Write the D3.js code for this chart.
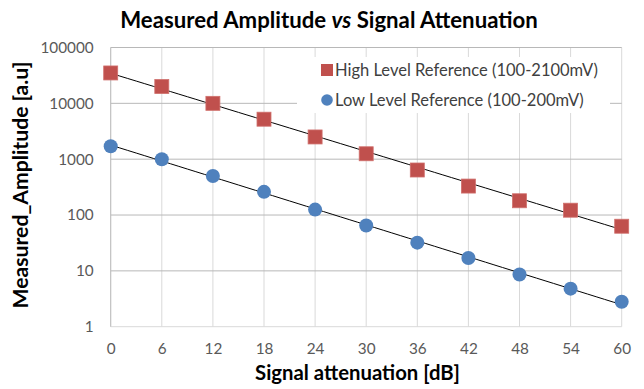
<!DOCTYPE html>
<html>
<head>
<meta charset="utf-8">
<script src="https://cdn.jsdelivr.net/npm/d3@7"></script>
<style>
  html, body { margin: 0; padding: 0; background: #fff; }
  svg { display: block; font-family: Lato, "Open Sans", sans-serif; }
</style>
</head>
<body>
<svg id="chart" width="644" height="389"></svg>
<script>
// ---- data ----
const attenuation = [0, 6, 12, 18, 24, 30, 36, 42, 48, 54, 60];
const highLevel = [35000, 20000, 10000, 5200, 2500, 1250, 640, 330, 180, 122, 63];
const lowLevel = [1700, 1000, 500, 260, 125, 65, 32, 17, 8.6, 4.8, 2.8];
const yTicks = [1, 10, 100, 1000, 10000, 100000];
const xTicks = [0, 6, 12, 18, 24, 30, 36, 42, 48, 54, 60];
const seriesNames = ["High Level Reference (100-2100mV)", "Low Level Reference (100-200mV)"];
const titleMain = ["Measured Amplitude ", "vs", " Signal Attenuation"];
const xTitle = "Signal attenuation [dB]";
const yTitle = "Measured_Amplitude [a.u]";

// ---- layout ----
const svg = d3.select("#chart");
const pL = 110.7, pR = 621.7, pT = 47.5, pB = 326.7;
const x = d3.scaleLinear().domain([0, 60]).range([pL, pR]);
const y = d3.scaleLog().domain([1, 100000]).range([pB, pT]);

function fitWidth(sel, target) {
  const w = sel.node().getBBox().width;
  const fs = parseFloat(sel.attr("font-size"));
  sel.attr("font-size", fs * target / w);
}

// vertical gridlines
svg.append("g").selectAll("line").data(xTicks).join("line")
  .attr("x1", d => x(d)).attr("x2", d => x(d))
  .attr("y1", pT).attr("y2", pB)
  .attr("stroke", "#d9d9d9").attr("stroke-width", 1);

// horizontal gridlines
svg.append("g").selectAll("line").data(yTicks).join("line")
  .attr("x1", pL).attr("x2", pR)
  .attr("y1", d => y(d)).attr("y2", d => y(d))
  .attr("stroke", d => d === 1 ? "#d9d9d9" : "#b8b8b8").attr("stroke-width", 1);

// left axis line
svg.append("line").attr("x1", pL).attr("x2", pL).attr("y1", pT).attr("y2", pB)
  .attr("stroke", "#bfbfbf");

// y tick labels
const yAxis = d3.axisLeft(y).tickValues(yTicks).tickFormat(d3.format("d")).tickSize(0).tickPadding(17);
const gy = svg.append("g").attr("transform", `translate(${pL},0)`).call(yAxis);
gy.select(".domain").remove();
gy.selectAll("text").attr("font-size", 15.3).attr("fill", "#595959")
  .attr("font-family", "Lato, sans-serif");

// x tick labels
const xAxis = d3.axisBottom(x).tickValues(xTicks).tickSize(0).tickPadding(16);
const gx = svg.append("g").attr("transform", `translate(0,${pB})`).call(xAxis);
gx.select(".domain").remove();
gx.selectAll("text").attr("font-size", 15.3).attr("fill", "#595959")
  .attr("font-family", "Lato, sans-serif");

// legend background
svg.append("rect").attr("x", 297).attr("y", 57).attr("width", 313).attr("height", 56)
  .attr("fill", "#fff");

// trendlines (exponential least squares fit)
function expFit(xs, ys) {
  const ly = ys.map(v => Math.log10(v));
  const mx = d3.mean(xs), my = d3.mean(ly);
  const b = d3.sum(xs, (d, i) => (d - mx) * (ly[i] - my)) / d3.sum(xs, d => (d - mx) ** 2);
  const a = my - b * mx;
  return t => Math.pow(10, a + b * t);
}
const fitX = d3.range(0, 60.01, 1);
[highLevel, lowLevel].forEach(vals => {
  const f = expFit(attenuation, vals);
  svg.append("path")
    .attr("d", d3.line().x(d => x(d)).y(d => y(f(d)))(fitX))
    .attr("fill", "none").attr("stroke", "#000").attr("stroke-width", 1);
});

// markers
const red = "#c0504d", blue = "#4f81bd";
const sq = 14;
svg.append("g").selectAll("rect").data(attenuation).join("rect")
  .attr("x", (d) => x(d) - sq / 2)
  .attr("y", (d, i) => y(highLevel[i]) - sq / 2)
  .attr("width", sq).attr("height", sq)
  .attr("fill", red).attr("stroke", "#d0706d").attr("stroke-width", 0.8);
svg.append("g").selectAll("circle").data(attenuation).join("circle")
  .attr("cx", d => x(d))
  .attr("cy", (d, i) => y(lowLevel[i]))
  .attr("r", 7)
  .attr("fill", blue);

// legend
svg.append("rect").attr("x", 321).attr("y", 64).attr("width", 12).attr("height", 12).attr("fill", red);
svg.append("circle").attr("cx", 327).attr("cy", 100).attr("r", 5.8).attr("fill", blue);
const l1 = svg.append("text").attr("x", 335).attr("y", 76).attr("font-size", 16)
  .attr("fill", "#404040").text(seriesNames[0]);
fitWidth(l1, 263);
const l2 = svg.append("text").attr("x", 335).attr("y", 106).attr("font-size", 16)
  .attr("fill", "#404040").text(seriesNames[1]);
l2.attr("font-size", l1.attr("font-size"));

// title
const title = svg.append("text").attr("x", 329).attr("y", 28.3).attr("text-anchor", "middle")
  .attr("font-size", 22).attr("font-weight", "bold").attr("fill", "#000");
title.selectAll("tspan").data(titleMain).join("tspan")
  .attr("font-style", (d, i) => i === 1 ? "italic" : "normal").text(d => d);
fitWidth(title, 418);

// x title
const xt = svg.append("text").attr("x", 357.5).attr("y", 380).attr("text-anchor", "middle")
  .attr("font-size", 18).attr("font-weight", "bold").attr("fill", "#000").text(xTitle);
fitWidth(xt, 205);

// y title
const yt = svg.append("text").attr("transform", "translate(28,185) rotate(-90)")
  .attr("text-anchor", "middle").attr("font-size", 18).attr("font-weight", "bold")
  .attr("fill", "#000").text(yTitle);
fitWidth(yt, 247);
</script>
</body>
</html>
